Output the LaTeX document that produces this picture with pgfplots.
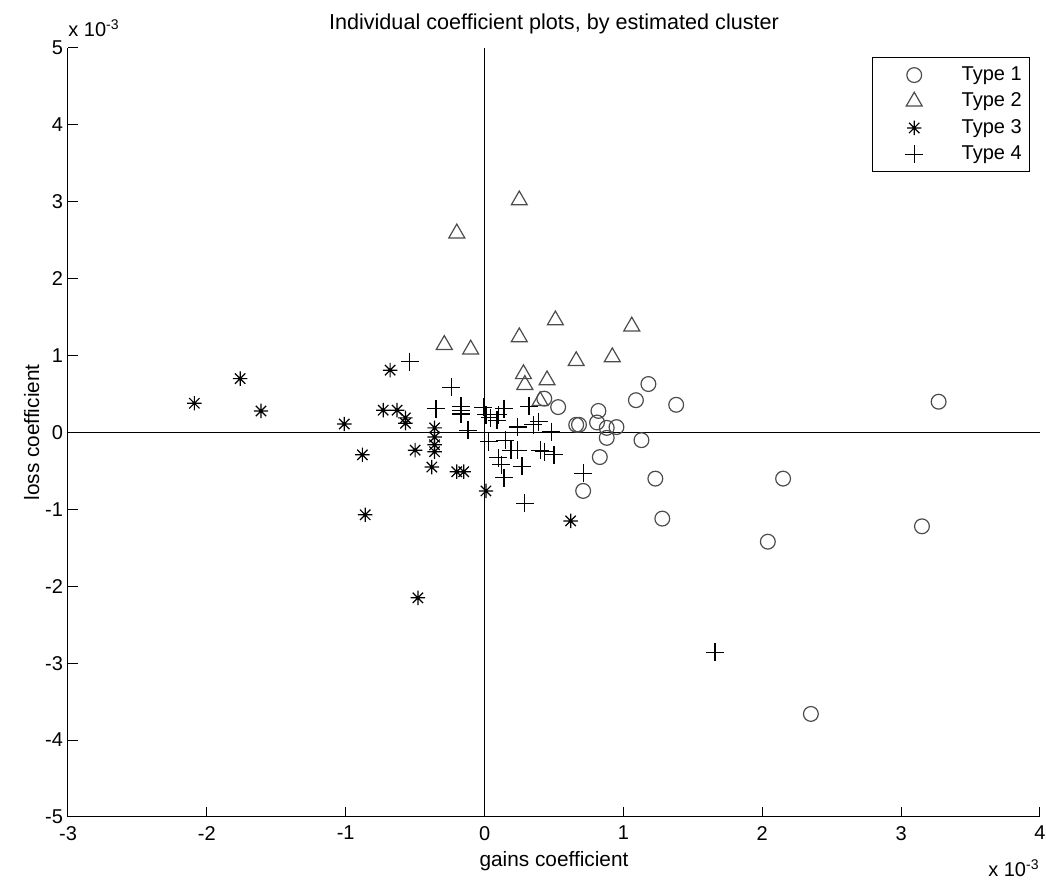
\documentclass[border=0pt]{standalone}
\usepackage{pgfplots}
\pgfplotsset{compat=1.18}
\usepackage{fontspec}
\setmainfont{Liberation Sans}
\usetikzlibrary{plotmarks}
\pgfdeclareplotmark{mstar}{%
  \pgfpathmoveto{\pgfqpoint{0pt}{\pgfplotmarksize}}\pgfpathlineto{\pgfqpoint{0pt}{-\pgfplotmarksize}}%
  \pgfpathmoveto{\pgfqpoint{\pgfplotmarksize}{0pt}}\pgfpathlineto{\pgfqpoint{-\pgfplotmarksize}{0pt}}%
  \pgfpathmoveto{\pgfqpoint{0.72\pgfplotmarksize}{0.72\pgfplotmarksize}}\pgfpathlineto{\pgfqpoint{-0.72\pgfplotmarksize}{-0.72\pgfplotmarksize}}%
  \pgfpathmoveto{\pgfqpoint{0.72\pgfplotmarksize}{-0.72\pgfplotmarksize}}\pgfpathlineto{\pgfqpoint{-0.72\pgfplotmarksize}{0.72\pgfplotmarksize}}%
  \pgfusepathqstroke}
\begin{document}
\begin{tikzpicture}
\useasboundingbox (-34pt,-32pt) rectangle (489pt,408.5pt);
\begin{axis}[
  scale only axis, width=486pt, height=384.5pt,
  xmin=-3, xmax=4, ymin=-5, ymax=5,
  axis lines*=left,
  axis line style={line width=0.5pt},
  tick align=inside, major tick length=5pt,
  tick style={black, line width=0.5pt},
  xtick={-3,-2,-1,0,1,2,3,4}, xticklabels={-3,-2,-1,0,1,2,3,4},
  ytick={-5,-4,-3,-2,-1,0,1,2,3,4,5}, yticklabels={-5,-4,-3,-2,-1,0,1,2,3,4,5},
  ticklabel style={font=\fontsize{10}{12}\selectfont},
  xticklabel style={yshift=-1pt},
  yticklabel style={xshift=1pt},
  title={Individual coefficient plots, by estimated cluster},
  title style={font=\fontsize{10.8}{13}\selectfont, yshift=-2.5pt},
  xlabel={gains coefficient}, ylabel={loss coefficient},
  label style={font=\fontsize{10.4}{12.5}\selectfont},
  xlabel style={yshift=1.5pt},
  ylabel style={yshift=-4pt},
  clip=false,
  legend cell align=left,
  legend style={at={(rel axis cs:0.99,0.988)}, anchor=north east, draw=black, line width=0.5pt,
    font=\fontsize{10}{12}\selectfont, row sep=0.75pt, inner xsep=2pt, inner ysep=2.5pt,
    /tikz/every even column/.append style={column sep=2pt}},
  legend image code/.code={\path (0pt,0pt) (40pt,0pt); \draw[#1] plot coordinates {(18.5pt,0pt)};},
]
\addplot[black, line width=0.5pt, forget plot] coordinates {(0,-5) (0,5)};
\addplot[black, line width=0.5pt, forget plot] coordinates {(-3,0) (4,0)};
% Type 1
\addplot[only marks, mark=o, mark size=3.7pt, draw=black!70, mark options={line width=0.6pt}] coordinates {
(3.27,0.40) (3.15,-1.22) (2.35,-3.66) (2.04,-1.42) (2.15,-0.60) (1.38,0.36) (1.18,0.63)
(1.09,0.42) (1.13,-0.10) (1.23,-0.60) (1.28,-1.12) (0.95,0.07) (0.88,0.06) (0.88,-0.07)
(0.82,0.28) (0.81,0.13) (0.83,-0.32) (0.71,-0.76) (0.66,0.10) (0.68,0.10) (0.53,0.33) (0.43,0.44)
};
\addlegendentry{Type 1}
% Type 2
\addplot[only marks, mark=triangle, mark size=4.6pt, draw=black!70, mark options={line width=0.6pt}] coordinates {
(0.25,3.02) (-0.20,2.59) (0.51,1.46) (1.06,1.38) (-0.29,1.14) (-0.10,1.08) (0.25,1.24)
(0.66,0.93) (0.92,0.98) (0.28,0.76) (0.29,0.62) (0.45,0.68) (0.40,0.41)
};
\addlegendentry{Type 2}
% Type 3
\addplot[only marks, mark=mstar, mark size=3.6pt, draw=black, mark options={line width=0.6pt}] coordinates {
(-2.09,0.38) (-1.76,0.70) (-1.61,0.28) (-1.01,0.11) (-0.88,-0.29) (-0.86,-1.07) (-0.48,-2.15)
(-0.68,0.81) (-0.73,0.29) (-0.63,0.29) (-0.57,0.19) (-0.57,0.12) (-0.36,0.06) (-0.36,-0.06)
(-0.36,-0.16) (-0.36,-0.25) (-0.50,-0.23) (-0.38,-0.45) (-0.20,-0.51) (-0.15,-0.51)
(0.01,-0.76) (0.62,-1.15)
};
\addlegendentry{Type 3}
% Type 4
\addplot[only marks, mark=+, mark size=4.5pt, draw=black, mark options={line width=0.6pt}] coordinates {
(-0.54,0.92) (-0.24,0.59) (-0.35,0.31) (-0.17,0.34) (-0.17,0.29) (-0.17,0.24) (-0.12,0.03)
(-0.01,0.33) (0.01,0.23) (0.04,0.19) (0.09,0.16) (0.10,0.23) (0.14,0.31) (0.32,0.34)
(0.24,0.07) (0.35,0.10) (0.39,0.14) (0.48,0.01) (0.03,-0.12) (0.15,-0.10) (0.19,-0.23)
(0.24,-0.23) (0.10,-0.33) (0.12,-0.42) (0.27,-0.44) (0.14,-0.59) (0.40,-0.23) (0.43,-0.25)
(0.50,-0.29) (0.71,-0.53) (0.29,-0.92) (1.66,-2.86)
};
\addlegendentry{Type 4}
\node[anchor=base west, font=\fontsize{10}{12}\selectfont, inner sep=0pt] at ([yshift=5.5pt]rel axis cs:0,1) {x 10\textsuperscript{-3}};
\node[anchor=base east, font=\fontsize{10}{12}\selectfont, inner sep=0pt] at ([yshift=-30pt]rel axis cs:1,0) {x 10\textsuperscript{-3}};
\end{axis}
\end{tikzpicture}
\end{document}
